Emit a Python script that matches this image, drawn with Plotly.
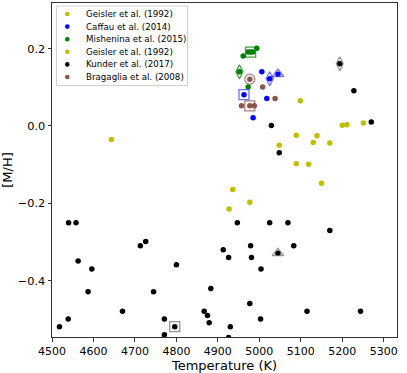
import plotly.graph_objects as go

# ---------------- data ----------------
series_names = ["Geisler et al. (1992)", "Caffau et al. (2014)", "Mishenina et al. (2015)",
                "Geisler et al. (1992)", "Kunder et al. (2017)", "Bragaglia et al. (2008)"]
series_colors = ["#bfbf00", "#0000ff", "#008000", "#bfbf00", "#000000", "#8c564b"]

geisler1_T = [4643, 5099, 5200, 5211, 5251, 5048, 5089, 5139]
geisler1_M = [-0.035, 0.065, 0.002, 0.003, 0.008, -0.050, -0.024, -0.025]

caffau_T = [4963, 5018, 4985, 5006, 5025, 5045]
caffau_M = [0.081, 0.071, 0.021, 0.140, 0.122, 0.134]

mishenina_T = [4961, 4973, 4979, 4984, 4994, 4952, 4973]
mishenina_M = [0.181, 0.191, 0.191, 0.191, 0.201, 0.140, 0.101]

geisler2_T = [5130, 5170, 5089, 5119, 5150, 4936, 4977, 4927]
geisler2_M = [-0.043, -0.044, -0.098, -0.099, -0.148, -0.164, -0.197, -0.215]

kunder_T = [4540, 4558, 4563, 4596, 4587, 4713, 4726, 4670, 4539, 4518,
            4745, 4800, 4771, 4771, 4796, 4867, 4875, 4879, 4883, 4913,
            4926, 4947, 4979, 4981, 4977, 5004, 5003, 4930, 4926, 5025,
            5069, 5045, 5083, 5115, 5170, 5244, 5228, 5270, 5029, 5048, 5194]
kunder_M = [-0.250, -0.250, -0.349, -0.370, -0.429, -0.310, -0.299, -0.479, -0.499, -0.519,
            -0.429, -0.359, -0.499, -0.540, -0.519, -0.479, -0.490, -0.509, -0.420, -0.320,
            -0.340, -0.250, -0.310, -0.340, -0.459, -0.370, -0.499, -0.519, -0.547, -0.250,
            -0.250, -0.329, -0.310, -0.479, -0.270, -0.479, 0.091, 0.010, 0.001, -0.069, 0.161]

bragaglia_T = [5038, 4957, 4977, 4988, 4977, 5008]
bragaglia_M = [0.071, 0.052, 0.052, 0.052, 0.121, 0.101]

series_T = [geisler1_T, caffau_T, mishenina_T, geisler2_T, kunder_T, bragaglia_T]
series_M = [geisler1_M, caffau_M, mishenina_M, geisler2_M, kunder_M, bragaglia_M]

# highlighted stars: (series index, point index, symbol)
highlights = [
    (4, 14, "square-open"), (1, 0, "square-open"), (5, 2, "square-open"), (2, 2, "square-open"),
    (4, 31, "triangle-up-open"), (1, 5, "triangle-up-open"),
    (4, 40, "diamond-tall-open"), (1, 4, "diamond-tall-open"), (2, 5, "diamond-tall-open"),
    (5, 4, "circle-open"),
]
hl_colors = {4: "#707070", 1: "#4040ff", 2: "#008000", 5: "#8c564b"}

x_ticks = [4500, 4600, 4700, 4800, 4900, 5000, 5100, 5200, 5300]
y_ticks = [-0.4, -0.2, 0.0, 0.2]

# ---------------- figure ----------------
fig = go.Figure()
for name, col, T, M in zip(series_names, series_colors, series_T, series_M):
    fig.add_trace(go.Scatter(x=T, y=M, mode="markers", name=name, showlegend=False,
                             marker=dict(color=col, size=5.5, line=dict(width=0))))

for si, pi, sym in highlights:
    fig.add_trace(go.Scatter(x=[series_T[si][pi]], y=[series_M[si][pi]], mode="markers",
                             showlegend=False,
                             marker=dict(symbol=sym, size=10, color=hl_colors[si],
                                         opacity=0.75, line=dict(width=1.3, color=hl_colors[si]))))

# plot area geometry in pixels
W, H = 407, 373
L, R, T0, B = 52, 10, 3, 36
pw, ph = W - L - R, H - T0 - B

def px2x(p):
    return (p - L) / pw

def py2y(p):
    return 1 - (p - T0) / ph

shapes = [dict(type="rect", xref="paper", yref="paper",
               x0=px2x(56.5), x1=px2x(187.5), y0=py2y(85.5), y1=py2y(6),
               line=dict(color="#d0d0d0", width=1), fillcolor="rgba(255,255,255,0.8)", layer="above")]
annotations = []
for i, (name, col) in enumerate(zip(series_names, series_colors)):
    yc = 14 + i * 12.6
    shapes.append(dict(type="circle", xref="paper", yref="paper",
                       xsizemode="pixel", ysizemode="pixel",
                       xanchor=px2x(67.3), yanchor=py2y(yc),
                       x0=-2.3, x1=2.3, y0=-2.3, y1=2.3,
                       fillcolor=col, line=dict(width=0), layer="above"))
    annotations.append(dict(x=px2x(84), y=py2y(yc), xref="paper", yref="paper",
                            text=name, showarrow=False, xanchor="left", yanchor="middle",
                            font=dict(family="DejaVu Sans", size=8.7, color="black")))

fig.update_layout(
    width=W, height=H,
    margin=dict(l=L, r=R, t=T0, b=B),
    paper_bgcolor="white", plot_bgcolor="white",
    font=dict(family="DejaVu Sans", color="black"),
    showlegend=False,
    shapes=shapes, annotations=annotations,
)
fig.update_xaxes(range=[4500, 5332], tickvals=x_ticks, ticks="outside", ticklen=3.5,
                 tickwidth=1, tickcolor="#333", showline=True, linecolor="#333", linewidth=1,
                 mirror=True, showgrid=False, zeroline=False,
                 tickfont=dict(size=11, family="DejaVu Sans"),
                 title=dict(text="Temperature (K)", font=dict(size=13, family="DejaVu Sans"), standoff=1))
fig.update_yaxes(range=[-0.5457, 0.318], tickvals=y_ticks, tickformat=".1f", ticks="outside",
                 ticklen=3.5, tickwidth=1, tickcolor="#333", showline=True, linecolor="#333",
                 linewidth=1, mirror=True, showgrid=False, zeroline=False,
                 tickfont=dict(size=11.3, family="DejaVu Sans"),
                 title=dict(text="[M/H]", font=dict(size=13, family="DejaVu Sans"), standoff=6))

fig.write_html("out.html", config={"displayModeBar": False},
               post_script="document.body.style.margin='0';document.body.style.overflow='hidden';")
